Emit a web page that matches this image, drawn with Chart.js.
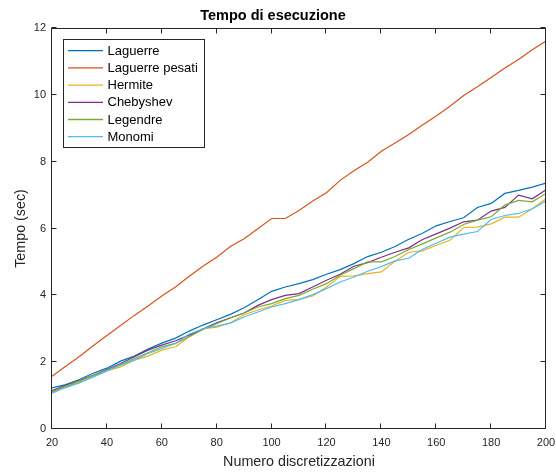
<!DOCTYPE html>
<html>
<head>
<meta charset="utf-8">
<script src="https://cdn.jsdelivr.net/npm/chart.js@4.4.1/dist/chart.umd.min.js"></script>
<style>
  html, body { margin: 0; padding: 0; background: #ffffff; }
  #wrap { width: 556px; height: 472px; }
</style>
</head>
<body>
<div id="wrap"><canvas id="c" width="556" height="472"></canvas></div>
<script>
// Discretisation counts (x axis)
const discretizzazioni = [20, 25, 30, 35, 40, 45, 50, 55, 60, 65, 70, 75, 80, 85, 90, 95, 100,
  105, 110, 115, 120, 125, 130, 135, 140, 145, 150, 155, 160, 165, 170, 175, 180, 185, 190, 195, 200];

// Execution times in seconds, one array per basis
const laguerre = [1.23, 1.33, 1.48, 1.67, 1.82, 2.03, 2.18, 2.39, 2.57, 2.72, 2.93, 3.11, 3.27, 3.43, 3.63, 3.87, 4.12,
  4.25, 4.35, 4.47, 4.63, 4.77, 4.95, 5.16, 5.29, 5.46, 5.68, 5.86, 6.08, 6.21, 6.32, 6.63, 6.75, 7.05, 7.14, 7.24, 7.36];
const laguerrePesati = [1.58, 1.88, 2.17, 2.49, 2.80, 3.10, 3.40, 3.68, 3.98, 4.25, 4.57, 4.87, 5.14, 5.46, 5.69, 5.99, 6.30,
  6.30, 6.54, 6.82, 7.07, 7.44, 7.73, 7.98, 8.31, 8.56, 8.81, 9.10, 9.37, 9.66, 9.98, 10.24, 10.52, 10.80, 11.06, 11.35, 11.61];
const hermite = [1.10, 1.26, 1.41, 1.56, 1.74, 1.86, 2.06, 2.18, 2.36, 2.46, 2.76, 3.00, 3.05, 3.18, 3.42, 3.56, 3.68,
  3.85, 3.88, 3.98, 4.25, 4.57, 4.58, 4.65, 4.70, 5.02, 5.29, 5.33, 5.50, 5.65, 6.03, 6.04, 6.14, 6.34, 6.34, 6.59, 6.89];
const chebyshev = [1.15, 1.31, 1.46, 1.61, 1.78, 1.96, 2.16, 2.36, 2.51, 2.64, 2.81, 2.99, 3.18, 3.33, 3.47, 3.70, 3.87,
  4.00, 4.05, 4.25, 4.45, 4.63, 4.87, 4.98, 5.14, 5.29, 5.42, 5.67, 5.84, 6.01, 6.20, 6.25, 6.52, 6.63, 7.00, 6.89, 7.16];
const legendre = [1.12, 1.28, 1.44, 1.61, 1.76, 1.93, 2.11, 2.28, 2.46, 2.56, 2.76, 2.98, 3.15, 3.32, 3.47, 3.65, 3.75,
  3.90, 4.00, 4.18, 4.35, 4.60, 4.80, 5.00, 5.00, 5.16, 5.37, 5.54, 5.72, 5.89, 6.12, 6.25, 6.35, 6.70, 6.84, 6.80, 7.05];
const monomi = [1.07, 1.24, 1.38, 1.56, 1.74, 1.91, 2.06, 2.26, 2.41, 2.56, 2.84, 3.00, 3.08, 3.17, 3.35, 3.50, 3.65,
  3.75, 3.87, 4.02, 4.20, 4.40, 4.55, 4.72, 4.86, 5.03, 5.11, 5.38, 5.56, 5.74, 5.83, 5.91, 6.27, 6.39, 6.45, 6.59, 6.82];

// Tick labels
const xTicks = [20, 40, 60, 80, 100, 120, 140, 160, 180, 200];
const yTicks = [0, 2, 4, 6, 8, 10, 12];

const seriesNames = ['Laguerre', 'Laguerre pesati', 'Hermite', 'Chebyshev', 'Legendre', 'Monomi'];
const seriesValues = [laguerre, laguerrePesati, hermite, chebyshev, legendre, monomi];
const seriesColors = ['#0072BD', '#D95319', '#EDB120', '#7E2F8E', '#77AC30', '#4DBEEE'];

const AXIS = '#262626';
const FONT = '"Liberation Sans", Arial, Helvetica, sans-serif';

const datasets = seriesNames.map((name, i) => ({
  label: name,
  data: discretizzazioni.map((x, k) => ({ x: x, y: seriesValues[i][k] })),
  borderColor: seriesColors[i],
  backgroundColor: seriesColors[i],
  borderWidth: 1.2,
  pointRadius: 0,
  tension: 0,
  fill: false,
  order: seriesNames.length - i   // later series drawn on top
}));

// Axes box with inward ticks on all four sides
const frame = {
  id: 'frame',
  afterDraw(chart) {
    const { ctx, chartArea: a, scales: { x, y } } = chart;
    const L = Math.round(a.left) - 0.5, R = Math.round(a.right) - 0.5;
    const T = Math.round(a.top) + 0.5, B = Math.round(a.bottom) - 0.5;
    const len = 5;
    ctx.save();
    ctx.strokeStyle = AXIS;
    ctx.lineWidth = 1;
    ctx.strokeRect(L, T, R - L, B - T);
    ctx.beginPath();
    xTicks.forEach(v => {
      const px = Math.round(x.getPixelForValue(v)) - 0.5;
      ctx.moveTo(px, B); ctx.lineTo(px, B - len);
      ctx.moveTo(px, T); ctx.lineTo(px, T + len);
    });
    yTicks.forEach(v => {
      const py = Math.round(y.getPixelForValue(v)) - 0.5;
      ctx.moveTo(L, py); ctx.lineTo(L + len, py);
      ctx.moveTo(R, py); ctx.lineTo(R - len, py);
    });
    ctx.stroke();
    ctx.restore();
  }
};

// Boxed legend in the upper-left corner of the plot
const boxLegend = {
  id: 'boxLegend',
  afterDraw(chart) {
    const { ctx } = chart;
    const bx = 63.5, by = 39.5, bw = 141, bh = 108;
    ctx.save();
    ctx.fillStyle = '#ffffff';
    ctx.fillRect(bx, by, bw, bh);
    ctx.strokeStyle = AXIS;
    ctx.lineWidth = 1;
    ctx.strokeRect(bx, by, bw, bh);
    ctx.font = '13px ' + FONT;
    ctx.textBaseline = 'middle';
    ctx.textAlign = 'left';
    chart.data.datasets.forEach((ds, i) => {
      const yy = 50.7 + i * 17.2;
      ctx.strokeStyle = ds.borderColor;
      ctx.lineWidth = 1.3;
      ctx.beginPath();
      ctx.moveTo(68, yy);
      ctx.lineTo(103, yy);
      ctx.stroke();
      ctx.fillStyle = '#000000';
      ctx.fillText(ds.label, 107.5, yy + 0.5);
    });
    ctx.restore();
  }
};

new Chart(document.getElementById('c'), {
  type: 'line',
  data: { datasets: datasets },
  options: {
    responsive: false,
    devicePixelRatio: 1,
    animation: false,
    layout: { padding: { left: 0, right: 10, top: 0, bottom: 0 } },
    plugins: {
      legend: { display: false },
      tooltip: { enabled: false },
      title: {
        display: true,
        text: 'Tempo di esecuzione',
        color: '#000000',
        font: { family: FONT, size: 14.5, weight: 'bold', lineHeight: 1.2 },
        padding: { top: 7.5, bottom: 3.1 }
      }
    },
    scales: {
      x: {
        type: 'linear',
        min: 20,
        max: 200,
        afterBuildTicks(scale) { scale.ticks = xTicks.map(v => ({ value: v })); },
        afterFit(scale) {
          scale.height = 43;
          scale.paddingLeft = 0;
          scale.paddingRight = 0;
        },
        grid: { display: false, drawTicks: false },
        border: { display: false },
        ticks: {
          color: AXIS,
          padding: 7,
          maxRotation: 0,
          font: { family: FONT, size: 11 }
        },
        title: {
          display: true,
          text: 'Numero discretizzazioni',
          color: AXIS,
          font: { family: FONT, size: 14.3 },
          padding: { top: 0, bottom: 1.5 }
        }
      },
      y: {
        type: 'linear',
        min: 0,
        max: 12,
        afterBuildTicks(scale) { scale.ticks = yTicks.map(v => ({ value: v })); },
        afterFit(scale) {
          scale.width = 52;
          scale.paddingTop = 0;
          scale.paddingBottom = 0;
        },
        grid: { display: false, drawTicks: false },
        border: { display: false },
        ticks: {
          color: AXIS,
          padding: 6,
          font: { family: FONT, size: 11 }
        },
        title: {
          display: true,
          text: 'Tempo (sec)',
          color: AXIS,
          font: { family: FONT, size: 14.3 },
          padding: { top: 12, bottom: 0 }
        }
      }
    }
  },
  plugins: [frame, boxLegend]
});
</script>
</body>
</html>
